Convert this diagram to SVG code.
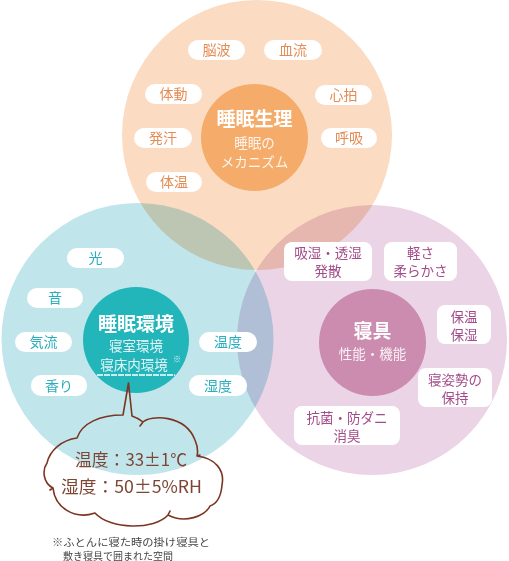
<svg xmlns="http://www.w3.org/2000/svg" width="509" height="561" viewBox="0 0 509 561">
<style>
text{font-family:"Noto Sans CJK JP","Noto Sans",sans-serif;text-anchor:middle}
.pill{fill:#fff}
.lo{font-size:14px;fill:#E38D55}
.lt{font-size:14px;fill:#29AEBD}
.lp{font-size:13.5px;fill:#A44C8A}
.ttl{font-size:19px;font-weight:bold;fill:#fff}
.sub{font-size:13.5px;fill:#fff;fill-opacity:0.88}
.cl{font-size:17px;fill:#7D4534}
.note{font-size:10px;fill:#444;text-anchor:start}
.big{mix-blend-mode:multiply}
</style>
<rect width="509" height="561" fill="#fff"/>
<g id="circles">
<circle class="big" cx="257" cy="135" r="135" fill="#FBDCC2"/>
<circle class="big" cx="137.5" cy="339" r="136" fill="#C0E6EC"/>
<circle class="big" cx="372" cy="340" r="135" fill="#EAD4E6"/>
</g>
<g id="physiology">
<circle cx="254.5" cy="137.5" r="53.5" fill="#F5AC6B"/>
<text class="ttl" x="254.5" y="126">睡眠生理</text>
<text class="sub" x="254.5" y="148">睡眠の</text>
<text class="sub" x="254.5" y="167">メカニズム</text>
</g>
<g id="physiology-labels">
<rect class="pill" x="188" y="40" width="57" height="20" rx="10"/><text class="lo" x="216.5" y="55">脳波</text>
<rect class="pill" x="264" y="40" width="58" height="20" rx="10"/><text class="lo" x="293" y="55">血流</text>
<rect class="pill" x="145" y="84" width="57" height="20" rx="10"/><text class="lo" x="173.5" y="99">体動</text>
<rect class="pill" x="315" y="85" width="57" height="20" rx="10"/><text class="lo" x="343.5" y="100">心拍</text>
<rect class="pill" x="134" y="128" width="58" height="20" rx="10"/><text class="lo" x="163" y="143">発汗</text>
<rect class="pill" x="321" y="128" width="56" height="20" rx="10"/><text class="lo" x="349" y="143">呼吸</text>
<rect class="pill" x="146" y="172" width="56" height="20" rx="10"/><text class="lo" x="174" y="187">体温</text>
</g>
<g id="environment">
<circle cx="136" cy="340" r="53" fill="#22B5BA"/>
<text class="ttl" x="136" y="331">睡眠環境</text>
<text class="sub" x="136" y="351">寝室環境</text>
<text class="sub" x="134" y="370">寝床内環境</text>
<text x="177" y="362" style="font-size:8px;fill:#fff;fill-opacity:0.88">※</text>
<line x1="97" y1="375" x2="175" y2="375" stroke="#fff" stroke-width="1.5" stroke-dasharray="6 1"/>
</g>
<g id="environment-labels">
<rect class="pill" x="67" y="248" width="57" height="20" rx="10"/><text class="lt" x="95.5" y="263">光</text>
<rect class="pill" x="27" y="288" width="56" height="20" rx="10"/><text class="lt" x="55" y="303">音</text>
<rect class="pill" x="15" y="332" width="57" height="20" rx="10"/><text class="lt" x="43.5" y="347">気流</text>
<rect class="pill" x="31" y="375" width="56" height="21" rx="10"/><text class="lt" x="59" y="390.5">香り</text>
<rect class="pill" x="199" y="332" width="58" height="20" rx="10"/><text class="lt" x="228" y="347">温度</text>
<rect class="pill" x="189" y="375" width="58" height="21" rx="10"/><text class="lt" x="218" y="390.5">湿度</text>
</g>
<g id="bedding">
<circle cx="372.5" cy="342.5" r="53.5" fill="#CB8CAF"/>
<text class="ttl" x="372.5" y="338">寝具</text>
<text class="sub" x="372.5" y="359">性能・機能</text>
</g>
<g id="bedding-labels">
<rect class="pill" x="284" y="242" width="88" height="39" rx="8"/><text class="lp" x="328" y="257.5">吸湿・透湿</text><text class="lp" x="328" y="276">発散</text>
<rect class="pill" x="384" y="242" width="73" height="39" rx="8"/><text class="lp" x="420.5" y="257.5">軽さ</text><text class="lp" x="420.5" y="276">柔らかさ</text>
<rect class="pill" x="437" y="305" width="54" height="39" rx="8"/><text class="lp" x="464" y="321.5">保温</text><text class="lp" x="464" y="340">保湿</text>
<rect class="pill" x="418" y="368" width="74" height="39" rx="8"/><text class="lp" x="455" y="384.5">寝姿勢の</text><text class="lp" x="455" y="403">保持</text>
<rect class="pill" x="294" y="406" width="106" height="39" rx="8"/><text class="lp" x="347" y="422.5">抗菌・防ダニ</text><text class="lp" x="347" y="441">消臭</text>
</g>
<g id="connectors">
<path d="M123,415 L128.5,383 L132,416 Q138,418 143,422 C150,415 185,414 195,440 C198,447 198,452 197,456 C215,458 225,470 222,485 C221,497 216,504 210,506 C205,516 185,524 168,515 C155,530 110,530 95,513 C75,520 55,508 53,488 C43,483 42,470 47,463 C50,450 62,440 77,438 C82,423 100,415 123,415 Z M143,422 l-3,4 M168,515 l2,-4 M53,488 l-3,2 M197,456 l3,-1" fill="none" stroke="#7B3522" stroke-width="1.6" stroke-linejoin="round" stroke-linecap="round"/>
</g>
<g id="cloud-text">
<text class="cl" x="131" y="466" textLength="112" lengthAdjust="spacingAndGlyphs">温度：33±1℃</text>
<text class="cl" x="131.5" y="493" textLength="141" lengthAdjust="spacingAndGlyphs">湿度：50±5%RH</text>
</g>
<g id="note">
<text class="note" x="52" y="545.5" textLength="158" lengthAdjust="spacingAndGlyphs">※ふとんに寝た時の掛け寝具と</text>
<text class="note" x="63" y="559.5" textLength="110" lengthAdjust="spacingAndGlyphs">敷き寝具で囲まれた空間</text>
</g>
</svg>
